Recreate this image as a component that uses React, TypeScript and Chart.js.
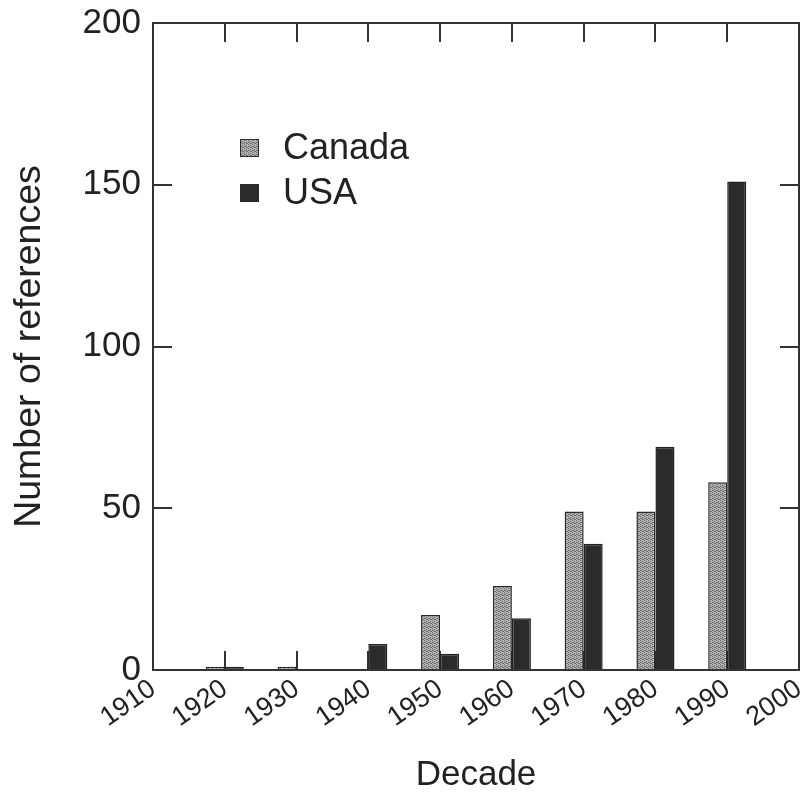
import React, { useEffect, useRef } from "react";
import { Chart, registerables } from "chart.js";

Chart.register(...registerables);

const decades = [1920, 1930, 1940, 1950, 1960, 1970, 1980, 1990];
const canadaRefs: (number | null)[] = [1, 1, null, 17, 26, 49, 49, 58];
const usaRefs: (number | null)[] = [1, null, 8, 5, 16, 39, 69, 151];
const seriesLabels = ["Canada", "USA"];
const xRange = [1910, 2000];
const xStep = 10;
const yRange = [0, 200];
const yStep = 50;
const xTitle = "Decade";
const yTitle = "Number of references";

const FONT = "'Liberation Sans', Arial, Helvetica, sans-serif";
const TEXT = "#222222";
const LINE = "#333333";

function makeStipple(): CanvasPattern | string {
  const c = document.createElement("canvas");
  c.width = 4;
  c.height = 4;
  const g = c.getContext("2d");
  if (!g) return "#a0a0a0";
  g.fillStyle = "#b4b4b4";
  g.fillRect(0, 0, 4, 4);
  g.fillStyle = "#6c6c6c";
  [[0, 0], [2, 1], [1, 2], [3, 3], [2, 3], [0, 2]].forEach(([x, y]) => g.fillRect(x, y, 1, 1));
  return g.createPattern(c, "repeat") || "#a0a0a0";
}

const zeroPad = (s: any) => {
  s.paddingLeft = 0;
  s.paddingRight = 0;
  s.paddingTop = 0;
  s.paddingBottom = 0;
};

const framePlugin = {
  id: "frameTicks",
  beforeDatasetsDraw(chart: any) {
    const { ctx, chartArea: a, scales } = chart;
    const L = 19;
    ctx.save();
    ctx.strokeStyle = LINE;
    ctx.lineWidth = 2;
    ctx.beginPath();
    scales.x.ticks.forEach((t: any) => {
      if (t.value <= xRange[0] || t.value >= xRange[1]) return;
      const px = Math.round(scales.x.getPixelForValue(t.value));
      ctx.moveTo(px, a.bottom);
      ctx.lineTo(px, a.bottom - L);
      ctx.moveTo(px, a.top);
      ctx.lineTo(px, a.top + L);
    });
    scales.y.ticks.forEach((t: any) => {
      if (t.value <= yRange[0] || t.value >= yRange[1]) return;
      const py = Math.round(scales.y.getPixelForValue(t.value));
      ctx.moveTo(a.left, py);
      ctx.lineTo(a.left + L, py);
      ctx.moveTo(a.right, py);
      ctx.lineTo(a.right - L, py);
    });
    ctx.stroke();
    ctx.restore();
  },
  afterDatasetsDraw(chart: any) {
    const { ctx, chartArea: a } = chart;
    ctx.save();
    ctx.strokeStyle = LINE;
    ctx.lineWidth = 2;
    ctx.strokeRect(a.left, a.top, a.right - a.left, a.bottom - a.top);
    ctx.restore();
  },
  afterDraw(chart: any) {
    const { ctx, chartArea: a } = chart;
    const lx = a.left + 87;
    const ly = a.top + 116;
    ctx.save();
    ctx.font = `36px ${FONT}`;
    ctx.textBaseline = "middle";
    ctx.textAlign = "left";
    chart.data.datasets.forEach((ds: any, i: number) => {
      const y = ly + i * 45;
      ctx.fillStyle = ds.backgroundColor;
      ctx.fillRect(lx, y, 19, 18);
      ctx.strokeStyle = "#2a2a2a";
      ctx.lineWidth = 1;
      ctx.strokeRect(lx + 0.5, y + 0.5, 18, 17);
      ctx.fillStyle = TEXT;
      ctx.fillText(ds.label, lx + 43, y + 10);
    });
    ctx.restore();
  },
};

export default function App() {
  const ref = useRef<HTMLCanvasElement | null>(null);

  useEffect(() => {
    if (!ref.current) return;
    const stipple = makeStipple();
    const chart = new Chart(ref.current, {
      type: "bar",
      data: {
        datasets: [
          {
            label: seriesLabels[0],
            data: decades.map((d, i) => ({ x: d, y: canadaRefs[i] })) as any,
            backgroundColor: stipple as any,
            borderColor: "#2a2a2a",
            borderWidth: 1.5,
            categoryPercentage: 0.53,
            barPercentage: 1,
          },
          {
            label: seriesLabels[1],
            data: decades.map((d, i) => ({ x: d, y: usaRefs[i] })) as any,
            backgroundColor: "#2b2b2b",
            borderColor: "#222222",
            borderWidth: 1.5,
            categoryPercentage: 0.53,
            barPercentage: 1,
          },
        ],
      },
      options: {
        animation: false,
        responsive: false,
        devicePixelRatio: 1,
        layout: { padding: { left: 0, right: 7, top: 23, bottom: 0 }, autoPadding: false },
        plugins: { legend: { display: false }, tooltip: { enabled: false } },
        scales: {
          x: {
            type: "linear",
            min: xRange[0],
            max: xRange[1],
            offset: false,
            grid: { display: false, drawTicks: false },
            border: { display: false },
            ticks: {
              stepSize: xStep,
              autoSkip: false,
              minRotation: 35,
              maxRotation: 35,
              labelOffset: 0,
              padding: 3,
              color: TEXT,
              font: { family: FONT, size: 27 },
              callback: (v: any) => String(v),
            },
            title: {
              display: true,
              text: xTitle,
              color: TEXT,
              font: { family: FONT, size: 35 },
              padding: { top: 0, bottom: 0 },
            },
            afterFit: (s: any) => {
              s.height = 126;
              zeroPad(s);
            },
          },
          y: {
            min: yRange[0],
            max: yRange[1],
            grid: { display: false, drawTicks: false },
            border: { display: false },
            ticks: {
              stepSize: yStep,
              padding: 12,
              color: TEXT,
              font: { family: FONT, size: 35 },
            },
            title: {
              display: true,
              text: yTitle,
              color: TEXT,
              font: { family: FONT, size: 37.5 },
              padding: { top: 7, bottom: 0 },
            },
            afterFit: (s: any) => {
              s.width = 153;
              zeroPad(s);
            },
          },
        },
      },
      plugins: [framePlugin],
    });
    return () => chart.destroy();
  }, []);

  return (
    <div style={{ position: "fixed", left: 0, top: 0, width: 806, height: 796, background: "#fff" }}>
      <canvas ref={ref} width={806} height={796} style={{ display: "block" }} />
    </div>
  );
}
